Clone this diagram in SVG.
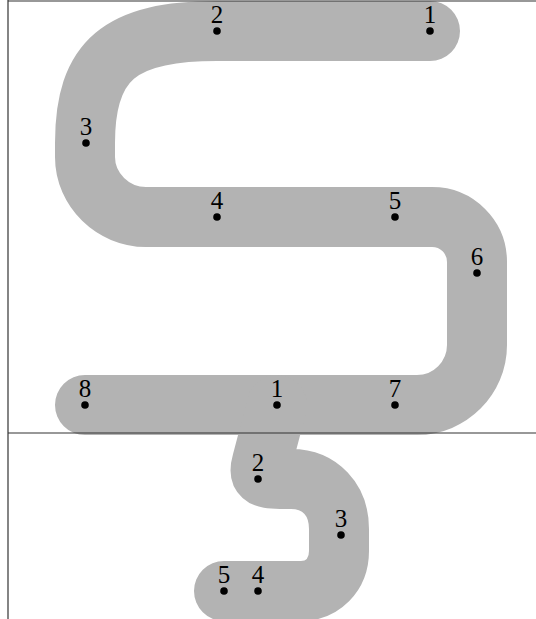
<svg xmlns="http://www.w3.org/2000/svg" width="536" height="619" viewBox="0 0 536 619">
<style>
.band{fill:none;stroke:#b3b3b3;stroke-width:60;stroke-linecap:round;stroke-linejoin:round}
.frame{stroke:#333;stroke-width:1.2;fill:none}
.dot{fill:#000}
.lbl{font-family:"Liberation Serif","DejaVu Serif",serif;font-size:25px;text-anchor:middle;fill:#000}
</style>
<rect width="536" height="619" fill="#fff"/>
<g id="connectors">
<path id="upper-path" class="band" d="M430,31 L217,31 C120,31 85,60 85,143 L85,157 C85,190 113,217 146,217 L432,217 C457,217 477,237 477,262 L477,345 C477,378 450,405 417,405 L85,405"/>
<path id="lower-path" class="band" d="M277,405 L262,462 C258,476 262,479 280,479 L291,479 C320,479 339,500 339,529 L339,551 C339,575 322,591 301,591 L224,591"/>
</g>
<g id="frame">
<line class="frame" x1="8" y1="1" x2="536" y2="1"/>
<line class="frame" x1="8" y1="0" x2="8" y2="619"/>
<line class="frame" x1="8" y1="433" x2="536" y2="433"/>
</g>
<g id="upper-nodes">
<g id="u1"><circle class="dot" cx="430" cy="31" r="3.8"/><text class="lbl" x="430" y="23">1</text></g>
<g id="u2"><circle class="dot" cx="217" cy="31" r="3.8"/><text class="lbl" x="217" y="23">2</text></g>
<g id="u3"><circle class="dot" cx="86" cy="143" r="3.8"/><text class="lbl" x="86" y="135">3</text></g>
<g id="u4"><circle class="dot" cx="217" cy="217" r="3.8"/><text class="lbl" x="217" y="209">4</text></g>
<g id="u5"><circle class="dot" cx="395" cy="217" r="3.8"/><text class="lbl" x="395" y="209">5</text></g>
<g id="u6"><circle class="dot" cx="477" cy="273" r="3.8"/><text class="lbl" x="477" y="265">6</text></g>
<g id="u7"><circle class="dot" cx="395" cy="405" r="3.8"/><text class="lbl" x="395" y="397">7</text></g>
<g id="u8"><circle class="dot" cx="85" cy="405" r="3.8"/><text class="lbl" x="85" y="397">8</text></g>
</g>
<g id="lower-nodes">
<g id="l1"><circle class="dot" cx="277" cy="405" r="3.8"/><text class="lbl" x="277" y="397">1</text></g>
<g id="l2"><circle class="dot" cx="258" cy="479" r="3.8"/><text class="lbl" x="258" y="471">2</text></g>
<g id="l3"><circle class="dot" cx="341" cy="535" r="3.8"/><text class="lbl" x="341" y="527">3</text></g>
<g id="l4"><circle class="dot" cx="258" cy="591" r="3.8"/><text class="lbl" x="258" y="583">4</text></g>
<g id="l5"><circle class="dot" cx="224" cy="591" r="3.8"/><text class="lbl" x="224" y="583">5</text></g>
</g>
</svg>
